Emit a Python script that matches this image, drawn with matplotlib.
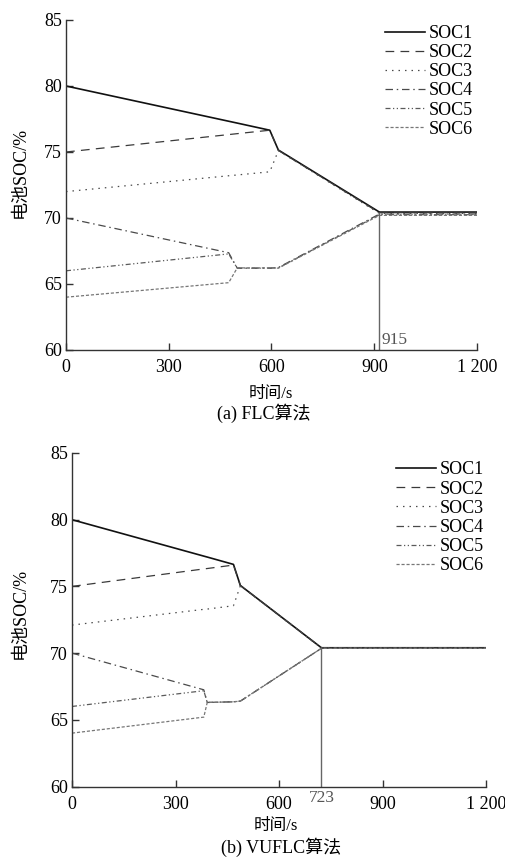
import matplotlib
matplotlib.use("Agg")
import matplotlib.pyplot as plt

plt.rcParams['font.family'] = ['Liberation Serif', 'Noto Sans CJK SC']

labels = ['SOC1', 'SOC2', 'SOC3', 'SOC4', 'SOC5', 'SOC6']

# (a) FLC
t_flc = [0, 475, 500, 595, 620, 915, 1200]
flc_soc1 = [80.0, 77.33, 77.19, 76.65, 75.15, 70.45, 70.45]
flc_soc2 = [75.0, 76.32, 76.39, 76.65, 75.12, 70.40, 70.40]
flc_soc3 = [72.0, 73.20, 73.26, 73.50, 75.10, 70.35, 70.35]
flc_soc4 = [70.0, 67.37, 66.20, 66.20, 66.25, 70.30, 70.30]
flc_soc5 = [66.0, 67.28, 66.20, 66.20, 66.22, 70.25, 70.25]
flc_soc6 = [64.0, 65.10, 66.22, 66.22, 66.20, 70.20, 70.20]
flc_conv = 915

# (b) VUFLC
t_vu = [0, 382, 392, 468, 488, 723, 1200]
vu_soc1 = [80.0, 77.27, 77.20, 76.65, 75.07, 70.40, 70.40]
vu_soc2 = [75.0, 76.31, 76.34, 76.60, 75.07, 70.40, 70.40]
vu_soc3 = [72.1, 73.28, 73.30, 73.55, 75.05, 70.38, 70.38]
vu_soc4 = [70.0, 67.25, 66.30, 66.35, 66.40, 70.36, 70.36]
vu_soc5 = [66.0, 67.18, 66.30, 66.35, 66.40, 70.36, 70.36]
vu_soc6 = [64.0, 65.20, 66.30, 66.35, 66.40, 70.36, 70.36]
vu_conv = 723

xticks = [0, 300, 600, 900, 1200]
xticklabels = ['0', '300', '600', '900', '1 200']
yticks = [60, 65, 70, 75, 80, 85]

styles = [
    dict(color='#111111', lw=1.2, ls='-'),
    dict(color='#3a3a3a', lw=0.9, ls=(0, (7, 5))),
    dict(color='#4a4a4a', lw=0.9, ls=(0, (1.2, 4))),
    dict(color='#4a4a4a', lw=0.9, ls=(0, (6, 3, 1.2, 3))),
    dict(color='#5a5a5a', lw=0.9, ls=(0, (4, 2, 1, 2, 1, 2))),
    dict(color='#777777', lw=0.9, ls=(0, (2.5, 1.5))),
]

fig = plt.figure(figsize=(5.06, 8.57), dpi=100)

def draw(ax, t, series, conv, conv_y, conv_text_pos, leg_anchor):
    for s, lab, st in zip(series, labels, styles):
        ax.plot(t, s, label=lab, **st)
    ax.plot([conv, conv], [60, conv_y], color='#666666', lw=1.0)
    ax.set_xlim(0, 1200)
    ax.set_ylim(60, 85)
    ax.set_xticks(xticks)
    ax.set_xticklabels(xticklabels)
    ax.set_yticks(yticks)
    for sp in ['top', 'right']:
        ax.spines[sp].set_visible(False)
    for sp in ['left', 'bottom']:
        ax.spines[sp].set_color('#333333')
        ax.spines[sp].set_linewidth(1.0)
    ax.tick_params(direction='in', length=5, width=1.0, color='#333333', labelsize=13)
    ax.tick_params(axis='x', pad=6.5)
    ax.tick_params(axis='y', pad=3)
    ax.text(conv_text_pos[0], conv_text_pos[1], str(conv), fontsize=12.5,
            color='#555555', transform=ax.transData, ha='left', va='center', clip_on=False)
    ax.legend(loc='upper right', bbox_to_anchor=leg_anchor, frameon=False,
              fontsize=13, handlelength=2.2, handletextpad=0.2,
              labelspacing=0.12, borderaxespad=0, borderpad=0)

ax1 = fig.add_axes([66/506, 1-350/857, 411/506, 330/857])
draw(ax1, t_flc, [flc_soc1, flc_soc2, flc_soc3, flc_soc4, flc_soc5, flc_soc6],
     flc_conv, 70.4, (920, 60.75), (0.99, 0.985))

ax2 = fig.add_axes([72/506, 1-786.5/857, 414/506, 333.5/857])
draw(ax2, t_vu, [vu_soc1, vu_soc2, vu_soc3, vu_soc4, vu_soc5, vu_soc6],
     vu_conv, 70.4, (688, 59.15), (0.995, 0.975))

def ft(x, y, s, size, **kw):
    fig.text(x/506, 1-y/857, s, ha='center', va='center', fontsize=size, **kw)

ft(20, 172, '电池SOC/%', 13, rotation=90)
ft(271, 394, '时间/s', 12)
ft(264, 413, '(a) FLC算法', 13)
ft(20, 613, '电池SOC/%', 13, rotation=90)
ft(276, 826, '时间/s', 12)
ft(281, 847, '(b) VUFLC算法', 13)

fig.savefig('out.png', dpi=100, facecolor='white')
